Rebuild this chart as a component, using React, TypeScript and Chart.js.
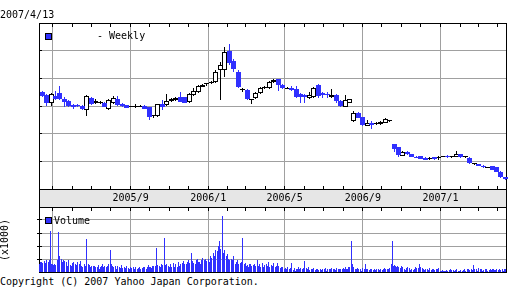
import React, { useEffect, useRef } from 'react';
import { Chart, registerables } from 'chart.js';
Chart.register(...registerables);

const BLUE = '#3030ff';
const GRID = '#a0a0a0';
const BAND = '#e6e6e6';
const FONT = '"DejaVu Sans Mono", monospace';

// ---- data ----
const axisStart = '2005/4/10';
const firstFriday = '2005/4/15';
const firstMonday = '2005/4/11';

const opens = [351, 340, 311, 336, 347, 327, 318, 304, 304, 300,
  284, 329, 312, 310, 310, 288, 312, 325, 307, 304,
  297, 297, 298, 300, 295, 263, 264, 306, 302, 319,
  322, 331, 331, 313, 340, 352, 370, 378, 382, 386,
  430, 430, 500, 464, 424, 357, 358, 321, 328, 348,
  364, 366, 386, 396, 376, 363, 364, 360, 343, 340,
  328, 334, 376, 346, 345, 331, 340, 319, 297, 312,
  246, 274, 259, 229, 240, 236, 234, 240, 245, 162,
  151, 120, 134, 125, 117, 119, 113, 110, 115, 111,
  116, 120, 114, 117, 125, 114, 113, 89, 90, 84,
  77, 83, 78, 63, 44];
const closes = [336, 311, 343, 325, 325, 313, 300, 296, 300, 289,
  336, 307, 317, 313, 297, 322, 328, 302, 300, 294,
  298, 298, 299, 290, 261, 264, 307, 295, 318, 324,
  328, 316, 312, 343, 354, 372, 376, 379, 388, 424,
  448, 496, 454, 433, 370, 358, 325, 322, 346, 364,
  368, 386, 394, 376, 364, 364, 358, 331, 331, 331,
  339, 364, 336, 339, 340, 341, 319, 300, 322, 324,
  276, 258, 231, 237, 230, 237, 243, 253, 246, 145,
  123, 133, 125, 117, 113, 110, 106, 111, 107, 117,
  117, 115, 115, 125, 115, 115, 93, 90, 83, 78,
  78, 69, 63, 42, 35];
const highs = [356, 343, 347, 354, 372, 332, 322, 307, 307, 304,
  338, 332, 326, 318, 314, 325, 337, 336, 311, 305,
  300, 307, 302, 304, 298, 269, 309, 322, 343, 329,
  332, 352, 334, 347, 365, 376, 381, 383, 392, 430,
  459, 513, 524, 470, 430, 365, 361, 327, 351, 369,
  372, 390, 398, 399, 379, 369, 372, 372, 347, 343,
  349, 367, 378, 351, 352, 360, 343, 323, 340, 325,
  283, 278, 262, 249, 246, 242, 246, 256, 249, 163,
  152, 136, 136, 128, 119, 121, 116, 117, 116, 118,
  119, 122, 117, 137, 126, 116, 115, 92, 91, 86,
  81, 84, 80, 64, 45];
const lows = [332, 300, 300, 322, 322, 296, 296, 289, 296, 286,
  264, 304, 307, 307, 296, 286, 307, 300, 296, 293,
  295, 291, 295, 289, 251, 258, 260, 287, 300, 314,
  318, 314, 311, 311, 336, 347, 369, 374, 379, 383,
  322, 405, 448, 423, 365, 351, 322, 307, 325, 345,
  361, 363, 383, 356, 361, 360, 355, 329, 311, 312,
  325, 329, 328, 329, 330, 329, 310, 298, 296, 311,
  241, 255, 229, 228, 217, 233, 232, 237, 242, 133,
  116, 119, 123, 116, 112, 108, 105, 105, 106, 105,
  114, 113, 112, 116, 112, 112, 90, 87, 82, 77,
  76, 68, 61, 41, 34];

// daily volume (x1000), five trading days per week
const volumes = [
  60, 75, 55, 80, 70, 85, 60, 70, 50, 90, 80, 65, 95, 315, 65, 60, 55, 50, 65, 55,
  90, 305, 130, 120, 110, 100, 80, 90, 70, 85, 60, 75, 50, 90, 40, 55, 45, 70, 60, 80,
  40, 65, 55, 50, 75, 60, 45, 85, 50, 40, 50, 60, 45, 70, 254, 60, 40, 55, 35, 45,
  30, 45, 25, 50, 35, 40, 30, 55, 25, 35, 45, 60, 30, 40, 50, 35, 50, 40, 65, 45,
  169, 60, 45, 50, 40, 30, 45, 25, 35, 50, 40, 30, 55, 25, 30, 20, 35, 30, 45, 25,
  30, 20, 25, 40, 30, 25, 35, 20, 30, 40, 20, 30, 25, 35, 20, 30, 25, 40, 20, 35,
  25, 40, 30, 55, 35, 40, 30, 45, 35, 50, 45, 60, 182, 55, 40, 50, 35, 60, 45, 55,
  264, 70, 55, 45, 60, 50, 40, 65, 45, 35, 55, 70, 40, 60, 45, 35, 50, 75, 45, 60,
  70, 50, 85, 60, 45, 60, 80, 55, 90, 70, 75, 144, 85, 60, 70, 65, 90, 55, 100, 75,
  80, 60, 95, 70, 110, 90, 70, 100, 65, 85, 100, 80, 120, 95, 110, 110, 150, 120, 170, 140,
  160, 197, 150, 236, 180, 431, 190, 150, 130, 170, 120, 140, 110, 100, 90, 80, 100, 90, 120, 70,
  60, 80, 70, 90, 65, 55, 70, 60, 80, 259, 60, 50, 70, 45, 55, 40, 60, 50, 65, 45,
  55, 40, 60, 50, 45, 92, 50, 45, 60, 40, 45, 70, 40, 55, 35, 60, 45, 75, 50, 40,
  35, 55, 45, 66, 40, 40, 50, 35, 66, 45, 30, 25, 40, 20, 35, 20, 30, 15, 25, 35,
  25, 15, 30, 20, 66, 15, 20, 30, 10, 25, 20, 35, 15, 25, 30, 25, 30, 20, 35, 84,
  30, 20, 35, 25, 15, 20, 10, 25, 15, 30, 15, 25, 10, 20, 15, 10, 20, 15, 25, 10,
  20, 15, 30, 10, 25, 15, 25, 20, 30, 15, 25, 10, 20, 15, 30, 15, 20, 10, 25, 20,
  20, 30, 15, 25, 35, 25, 20, 35, 30, 40, 238, 60, 40, 30, 35, 25, 20, 30, 15, 20,
  15, 25, 10, 20, 30, 20, 60, 25, 15, 20, 10, 15, 20, 25, 10, 15, 20, 10, 15, 25,
  20, 10, 15, 20, 10, 15, 25, 10, 30, 20, 20, 15, 25, 10, 30, 60, 238, 70, 45, 55,
  50, 35, 45, 30, 40, 30, 45, 25, 35, 20, 25, 15, 30, 20, 35, 20, 30, 15, 25, 10,
  15, 25, 35, 20, 30, 20, 30, 60, 25, 35, 30, 20, 25, 15, 20, 10, 20, 15, 25, 30,
  15, 10, 20, 25, 15, 20, 15, 10, 25, 30, 5, 10, 5, 15, 10, 10, 5, 8, 12, 6,
  15, 20, 10, 15, 8, 12, 8, 15, 10, 20, 5, 10, 8, 6, 12, 10, 15, 8, 20, 10,
  15, 25, 20, 10, 15, 20, 15, 10, 54, 20, 15, 25, 10, 30, 20, 20, 15, 25, 10, 15,
  10, 20, 15, 25, 10, 15, 10, 20, 15, 25, 20, 15, 10, 15, 20, 15, 25, 20, 10, 15,
  20, 10, 15, 20, 25];

const gridMonths = ['2005/5', '2005/9', '2006/1', '2006/5', '2006/9', '2007/1'];
const gridLabels = ['', '2005/9', '2006/1', '2006/5', '2006/9', '2007/1'];
const minorMonths = ['2005/5', '2005/6', '2005/7', '2005/8', '2005/9', '2005/10', '2005/11', '2005/12',
  '2006/1', '2006/2', '2006/3', '2006/4', '2006/5', '2006/6', '2006/7', '2006/8', '2006/9',
  '2006/10', '2006/11', '2006/12', '2007/1', '2007/2', '2007/3', '2007/4'];
const priceMax = 600;
const priceStep = 100;
const volMax = 500;
const volStep = 100;
const dayMax = 734;

// ---- helpers ----
const DAY = 86400000;
function dayOf(s: string): number {
  const [y, m, d] = s.split('/').map(Number);
  const base = (() => { const [a, b, c] = axisStart.split('/').map(Number); return Date.UTC(a, b - 1, c); })();
  return Math.round((Date.UTC(y, m - 1, d || 1) - base) / DAY);
}

const candleDays = opens.map((_, i) => dayOf(firstFriday) + 7 * i);
const volumeDays = volumes.map((_, k) => dayOf(firstMonday) + 7 * Math.floor(k / 5) + (k % 5));
const gridDays = gridMonths.map(dayOf);
const minorDays = minorMonths.map(dayOf);

const align = (p: number) => Math.round(p - 0.5) + 0.5;

const snapPlugin = {
  id: 'snap',
  beforeDatasetsDraw(chart: any) {
    chart.data.datasets.forEach((_: any, di: number) => {
      const meta = chart.getDatasetMeta(di);
      meta.data.forEach((el: any) => {
        const w = Math.round(el.width);
        el.width = w;
        el.x = w % 2 ? Math.floor(el.x) + 0.5 : Math.round(el.x);
        let y = Math.round(el.y);
        const b = Math.round(el.base);
        if (y === b) y = b - 1;
        el.y = y;
        el.base = b;
      });
    });
  },
};

const mainFrame = {
  id: 'mainFrame',
  beforeDraw(chart: any) {
    const { ctx, chartArea } = chart;
    const { left, right, bottom } = chartArea;
    ctx.save();
    ctx.fillStyle = BAND;
    ctx.fillRect(left, bottom, right - left + 1, chart.height - bottom);
    ctx.strokeStyle = '#000';
    ctx.lineWidth = 1;
    ctx.beginPath();
    ctx.moveTo(left + 0.5, bottom); ctx.lineTo(left + 0.5, chart.height);
    ctx.moveTo(right + 0.5, bottom); ctx.lineTo(right + 0.5, chart.height);
    ctx.stroke();
    ctx.restore();
  },
  beforeDatasetsDraw(chart: any) {
    const { ctx, chartArea, scales } = chart;
    const { left, right, top, bottom } = chartArea;
    ctx.save();
    ctx.strokeStyle = '#000';
    ctx.lineWidth = 1;
    ctx.strokeRect(left + 0.5, top + 0.5, right - left, bottom - top);
    ctx.beginPath();
    minorDays.forEach((d) => {
      const px = align(scales.x.getPixelForValue(d));
      ctx.moveTo(px, top); ctx.lineTo(px, top + 4);
      ctx.moveTo(px, bottom); ctx.lineTo(px, bottom - 3);
    });
    for (let v = priceStep; v < priceMax; v += priceStep) {
      const py = align(scales.y.getPixelForValue(v));
      ctx.moveTo(left, py); ctx.lineTo(left + 3, py);
    }
    ctx.stroke();
    ctx.restore();
  },
};

const volFrame = {
  id: 'volFrame',
  beforeDatasetsDraw(chart: any) {
    const { ctx, chartArea, scales } = chart;
    const { left, right, top, bottom } = chartArea;
    ctx.save();
    ctx.strokeStyle = '#000';
    ctx.lineWidth = 1;
    ctx.strokeRect(left + 0.5, top + 0.5, right - left, bottom - top);
    ctx.beginPath();
    minorDays.forEach((d) => {
      const px = align(scales.x.getPixelForValue(d));
      ctx.moveTo(px, top); ctx.lineTo(px, top + 4);
    });
    for (let v = volStep; v < volMax; v += volStep) {
      const py = align(scales.y.getPixelForValue(v));
      ctx.moveTo(left - 2, py); ctx.lineTo(left + 3, py);
    }
    ctx.stroke();
    ctx.restore();
  },
};

function xScale(showLabels: boolean) {
  return {
    type: 'linear',
    min: 0,
    max: dayMax,
    offset: false,
    afterBuildTicks: (s: any) => { s.ticks = gridDays.map((v) => ({ value: v })); },
    afterFit: (s: any) => { s.height = showLabels ? 18 : 0; },
    grid: { color: GRID, drawTicks: false, offset: false, lineWidth: 1 },
    border: { display: false },
    ticks: {
      display: showLabels,
      autoSkip: false,
      maxRotation: 0,
      minRotation: 0,
      padding: 3,
      color: '#000',
      font: { family: FONT, size: 10 },
      callback: (_v: any, i: number) => gridLabels[i],
    },
  };
}

function yScale(max: number, step: number) {
  return {
    type: 'linear',
    min: 0,
    max,
    afterFit: (s: any) => { s.width = 0; },
    ticks: { display: false, stepSize: step },
    grid: { color: GRID, drawTicks: false, lineWidth: 1 },
    border: { display: false },
  };
}

const barCommon = {
  grouped: false,
  borderSkipped: false,
  inflateAmount: 0,
  clip: false as any,
};

export default function App() {
  const mainRef = useRef<HTMLCanvasElement>(null);
  const volRef = useRef<HTMLCanvasElement>(null);

  useEffect(() => {
    const up = opens.map((o, i) => closes[i] >= o);
    const upBodies = candleDays.map((x, i) => ({ x, y: [opens[i], closes[i]] })).filter((_, i) => up[i]);
    const downBodies = candleDays.map((x, i) => ({ x, y: [closes[i], opens[i]] })).filter((_, i) => !up[i]);
    const upWicks = candleDays.map((x, i) => ({ x, y: [lows[i], highs[i]] })).filter((_, i) => up[i]);
    const downWicks = candleDays.map((x, i) => ({ x, y: [lows[i], highs[i]] })).filter((_, i) => !up[i]);

    const main = new Chart(mainRef.current as HTMLCanvasElement, {
      type: 'bar',
      data: {
        datasets: [
          { ...barCommon, data: upWicks as any, backgroundColor: '#000', barThickness: 1, borderWidth: 0, order: 3 },
          { ...barCommon, data: downWicks as any, backgroundColor: BLUE, barThickness: 1, borderWidth: 0, order: 2 },
          { ...barCommon, data: upBodies as any, backgroundColor: '#fff', borderColor: '#000', borderWidth: 1, barThickness: 5, order: 1 },
          { ...barCommon, data: downBodies as any, backgroundColor: BLUE, borderWidth: 0, barThickness: 5, order: 0 },
        ],
      },
      options: {
        animation: false,
        responsive: false,
        maintainAspectRatio: false,
        events: [],
        layout: { padding: { left: 39, right: 6, top: 23, bottom: 0 } },
        plugins: { legend: { display: false }, tooltip: { enabled: false } },
        scales: { x: xScale(true) as any, y: yScale(priceMax, priceStep) as any },
      },
      plugins: [mainFrame, snapPlugin],
    });

    const vol = new Chart(volRef.current as HTMLCanvasElement, {
      type: 'bar',
      data: {
        datasets: [
          { grouped: false, borderSkipped: false, inflateAmount: 0, data: volumeDays.map((x, i) => ({ x, y: volumes[i] })) as any, backgroundColor: BLUE, borderWidth: 0, barThickness: 1 },
        ],
      },
      options: {
        animation: false,
        responsive: false,
        maintainAspectRatio: false,
        events: [],
        layout: { padding: { left: 39, right: 6, top: 0, bottom: 1 } },
        plugins: { legend: { display: false }, tooltip: { enabled: false } },
        scales: { x: xScale(false) as any, y: yScale(volMax, volStep) as any },
      },
      plugins: [volFrame, snapPlugin],
    });

    return () => { main.destroy(); vol.destroy(); };
  }, []);

  const txt: React.CSSProperties = { position: 'absolute', whiteSpace: 'pre', fontFamily: FONT, fontSize: 10, lineHeight: '12px', color: '#000' };
  const sq: React.CSSProperties = { position: 'absolute', width: 7, height: 7, boxSizing: 'border-box', border: '1px solid #000', background: BLUE };

  return (
    <div style={{ position: 'absolute', left: 0, top: 0, width: 512, height: 288, background: '#fff', overflow: 'hidden' }}>
      <canvas ref={mainRef} width={512} height={207} style={{ position: 'absolute', left: 0, top: 0, width: 512, height: 207 }} />
      <canvas ref={volRef} width={512} height={66} style={{ position: 'absolute', left: 0, top: 207, width: 512, height: 66 }} />
      <div style={{ ...txt, left: 0, top: 9 }}>2007/4/13</div>
      <div style={{ ...sq, left: 45, top: 33 }} />
      <div style={{ ...txt, left: 97, top: 30 }}>- Weekly</div>
      <div style={{ ...sq, left: 45, top: 217 }} />
      <div style={{ ...txt, left: 54, top: 215 }}>Volume</div>
      <div style={{ ...txt, left: -16, top: 234, width: 42, textAlign: 'center', transform: 'rotate(-90deg)' }}>(x1000)</div>
      <div style={{ ...txt, left: 0, top: 276 }}>Copyright (C) 2007 Yahoo Japan Corporation.</div>
    </div>
  );
}
